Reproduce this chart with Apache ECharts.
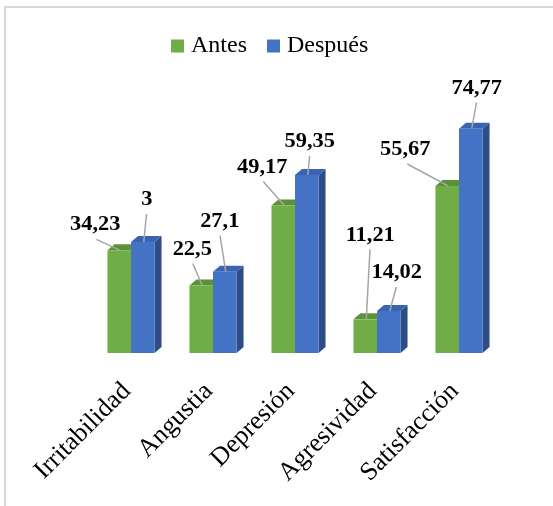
<!DOCTYPE html>
<html><head><meta charset="utf-8">
<script src="https://cdn.jsdelivr.net/npm/echarts@6/dist/echarts.min.js"></script>
<style>html,body{margin:0;padding:0;background:#fff}#c{width:553px;height:506px}</style>
</head><body><div id="c"></div>
<script>
// ---- data ----
const categories = ['Irritabilidad', 'Angustia', 'Depresión', 'Agresividad', 'Satisfacción'];
const antes = [34.23, 22.5, 49.17, 11.21, 55.67];
const despues = [37, 27.1, 59.35, 14.02, 74.77];
const antesLabels = ['34,23', '22,5', '49,17', '11,21', '55,67'];
const despuesLabels = ['3', '27,1', '59,35', '14,02', '74,77'];
const seriesNames = ['Antes', 'Después'];

// ---- layout / style (not data) ----
const antesLabelOffsets = [[-24, -25], [-9, -36], [-21, -38], [5, -84], [-42, -36]];
const despuesLabelOffsets = [[4, -42], [-5, -50], [3, -33], [8, -38], [6, -40]];
const colors = [
  { front: '#70ad47', top: '#5a9236', side: '#4e7f2f' },
  { front: '#4472c4', top: '#3a64b2', side: '#2c4d88' }
];
const DX = 7, DY = 6;
const FONT = '"Liberation Serif", "Times New Roman", serif';

function makeRender(si, labels, offsets) {
  return function (params, api) {
    const cat = api.value(0), val = api.value(1);
    const p = api.coord([cat, val]);
    const base = api.coord([cat, 0]);
    const band = api.size([1, 0])[0];
    const bw = band * 0.287;
    const cx = si === 0 ? p[0] - bw / 2 : p[0] + bw / 2;
    const x0 = cx - bw / 2, x1 = cx + bw / 2;
    const yT = p[1], yB = base[1];
    const c = colors[si];
    const off = offsets[params.dataIndex];
    const lx = cx + off[0], ly = yT + off[1];
    return {
      type: 'group',
      children: [
        { type: 'polygon', shape: { points: [[x1, yT], [x1 + DX, yT - DY], [x1 + DX, yB - DY], [x1, yB]] }, style: { fill: c.side } },
        { type: 'polygon', shape: { points: [[x0, yT], [x1, yT], [x1 + DX, yT - DY], [x0 + DX, yT - DY]] }, style: { fill: c.top } },
        { type: 'rect', shape: { x: x0, y: yT, width: bw, height: yB - yT }, style: { fill: c.front } },
        { type: 'line', z2: 100, shape: { x1: lx + (cx - lx) * 0.05, y1: ly + 14, x2: cx + 1, y2: yT }, style: { stroke: '#a6a6a6', lineWidth: 1.5 } },
        { type: 'text', z2: 101, x: lx, y: ly, scaleX: 1.12, scaleY: 1,
          style: { text: labels[params.dataIndex], x: 0, y: 0, align: 'center', verticalAlign: 'middle', font: 'bold 20px ' + FONT, fill: '#000' } }
      ]
    };
  };
}

const chart = echarts.init(document.getElementById('c'), null, { renderer: 'canvas' });
chart.setOption({
  animation: false,
  backgroundColor: '#fff',
  graphic: [{
    type: 'polyline', shape: { points: [[5, 506], [5, 7], [553, 7]] },
    style: { stroke: '#d9d9d9', lineWidth: 2, fill: null }, silent: true
  }],
  legend: {
    data: seriesNames, top: 34, left: 171, padding: 0, itemGap: 20,
    itemWidth: 13, itemHeight: 13, icon: 'rect',
    textStyle: { fontFamily: FONT, fontSize: 24, color: '#000', padding: [0, 0, 0, 2] }
  },
  grid: { left: 90, right: 53, top: 113, bottom: 153 },
  xAxis: {
    type: 'category', data: categories,
    axisLine: { show: false }, axisTick: { show: false },
    axisLabel: { rotate: 45, margin: 30, interval: 0, padding: [0, 6, 0, 0], fontFamily: FONT, fontSize: 26, color: '#000' }
  },
  yAxis: { type: 'value', min: 0, max: 80, show: false, splitLine: { show: false } },
  series: [
    { name: seriesNames[0], type: 'custom', itemStyle: { color: colors[0].front },
      renderItem: makeRender(0, antesLabels, antesLabelOffsets),
      data: antes.map((v, i) => [i, v]), encode: { x: 0, y: 1 } },
    { name: seriesNames[1], type: 'custom', itemStyle: { color: colors[1].front },
      renderItem: makeRender(1, despuesLabels, despuesLabelOffsets),
      data: despues.map((v, i) => [i, v]), encode: { x: 0, y: 1 } }
  ]
});
</script></body></html>
